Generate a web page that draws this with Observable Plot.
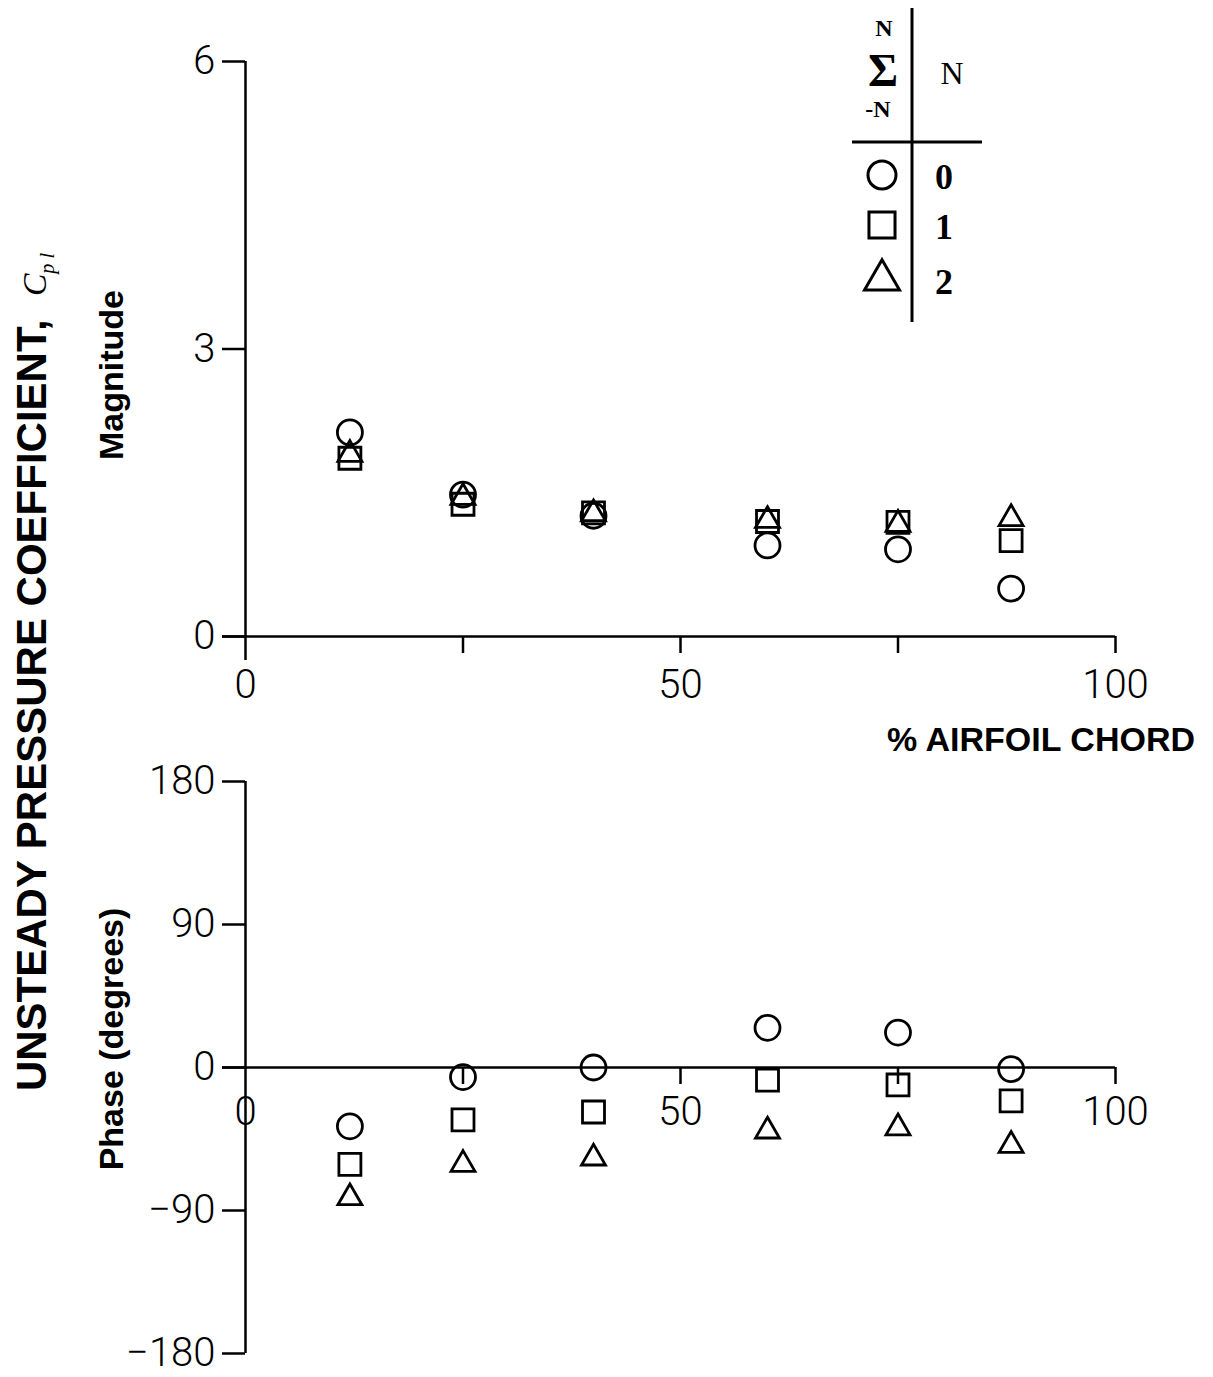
<!DOCTYPE html>
<html>
<head>
<meta charset="utf-8">
<script src="https://cdn.jsdelivr.net/npm/d3@7"></script>
<script src="https://cdn.jsdelivr.net/npm/@observablehq/plot@0.6"></script>
<style>
  html, body { margin: 0; padding: 0; background: #fff; }
  #fig { position: relative; width: 1213px; height: 1377px; overflow: hidden; color: #000;
         font-family: "Liberation Sans", Arial, sans-serif; }
  #fig > svg, #fig > div { position: absolute; }
  .vlabel { transform: translate(-50%, -50%) rotate(-90deg); white-space: nowrap; font-weight: bold; line-height: 1; }
</style>
</head>
<body>
<div id="fig"></div>
<script>
// Measurement stations along the chord (% chord)
const chord = [12, 25, 40, 60, 75, 88];

// Magnitude of the unsteady pressure coefficient for each harmonic sum N
const magN0 = [2.13, 1.48, 1.26, 0.95, 0.91, 0.50];
const magN1 = [1.86, 1.38, 1.29, 1.20, 1.19, 1.00];
const magN2 = [1.90, 1.45, 1.28, 1.21, 1.17, 1.23];

// Phase (degrees) for each harmonic sum N
const phaseN0 = [-37, -6, 0, 25, 22, -1];
const phaseN1 = [-61, -33, -28, -8, -11, -21];
const phaseN2 = [-82, -61, -57, -40, -38, -49];

const harmonicN = [0, 1, 2];
const symbolNames = ["circle", "square", "triangle"];
const symbolRadius = [12.5, 12.4, 8.9];

const magTicks = [0, 3, 6];
const phaseTicks = [-180, -90, 0, 90, 180];
const chordTickMarks = [25, 50, 75, 100];
const chordTickLabels = [0, 50, 100];

const minusFormat = d => (d < 0 ? "\u2212" + Math.abs(d) : String(d));

function rows(values) {
  return chord.map((x, i) => ({x, y: values[i]}));
}

const tickFont = {fontFamily: "Roboto, 'Liberation Sans', sans-serif", fontWeight: 300};

function seriesMarks(series) {
  return series.map((vals, k) =>
    Plot.dot(rows(vals), {
      x: "x", y: "y", symbol: symbolNames[k], r: symbolRadius[k],
      stroke: "black", strokeWidth: 2.8, fill: "none"
    })
  );
}

const fig = document.getElementById("fig");

// Upper panel: magnitude
const magPlot = Plot.plot({
  width: 1213, height: 720,
  marginLeft: 245, marginRight: 98, marginTop: 61, marginBottom: 84,
  x: {domain: [0, 100], axis: null},
  y: {domain: [0, 6], axis: null},
  style: {background: "transparent", color: "black", fontSize: "40px", overflow: "visible"},
  marks: [
    Plot.axisY(magTicks, {tickSize: 23, tickPadding: 7, strokeWidth: 2.5, label: null,
      tickFormat: minusFormat, ...tickFont}),
    Plot.ruleX([0], {y1: 6, y2: 0, insetBottom: -24, strokeWidth: 2.5}),
    Plot.ruleY([0], {x1: 0, x2: 100, insetLeft: -23, strokeWidth: 2.5}),
    Plot.ruleX(chordTickMarks, {x: d => d, y1: 0, y2: 0, insetBottom: -17, strokeWidth: 2.5}),
    Plot.text(chordTickLabels, {x: d => d, y: 0, dy: 49, text: d => String(d), ...tickFont}),
    ...seriesMarks([magN0, magN1, magN2])
  ]
});
magPlot.style.left = "0px";
magPlot.style.top = "0px";
fig.appendChild(magPlot);

// Lower panel: phase
const phasePlot = Plot.plot({
  width: 1213, height: 657,
  marginLeft: 245, marginRight: 98, marginTop: 61, marginBottom: 24,
  x: {domain: [0, 100], axis: null},
  y: {domain: [-180, 180], axis: null},
  style: {background: "transparent", color: "black", fontSize: "40px", overflow: "visible"},
  marks: [
    Plot.axisY(phaseTicks, {tickSize: 23, tickPadding: 7, strokeWidth: 2.5, label: null,
      tickFormat: minusFormat, ...tickFont}),
    Plot.ruleX([0], {y1: 180, y2: -180, strokeWidth: 2.5}),
    Plot.ruleY([0], {x1: 0, x2: 100, insetLeft: -23, strokeWidth: 2.5}),
    Plot.ruleX(chordTickMarks, {x: d => d, y1: 0, y2: 0, insetBottom: -17, strokeWidth: 2.5}),
    Plot.text(chordTickLabels, {x: d => d, y: 0, dy: 45, text: d => String(d), ...tickFont}),
    ...seriesMarks([phaseN0, phaseN1, phaseN2])
  ]
});
phasePlot.style.left = "0px";
phasePlot.style.top = "720px";
fig.appendChild(phasePlot);

// Axis titles
function addLabel(html, css, cls) {
  const d = document.createElement("div");
  if (cls) d.className = cls;
  d.innerHTML = html;
  Object.assign(d.style, css);
  fig.appendChild(d);
  return d;
}
addLabel("Magnitude", {left: "111px", top: "375px", fontSize: "34px"}, "vlabel");
addLabel("Phase (degrees)", {left: "111px", top: "1039px", fontSize: "34px"}, "vlabel");
addLabel("% AIRFOIL CHORD", {right: "18px", top: "722px", fontSize: "34px", fontWeight: "bold", lineHeight: "1"});
addLabel(
  "UNSTEADY PRESSURE COEFFICIENT,&nbsp; <span style=\"font-family:'Liberation Serif',serif;font-style:italic;font-weight:normal;font-size:0.8em\">C<sub style=\"font-size:0.6em\">p l</sub></span>",
  {left: "34px", top: "672px", fontSize: "42px"}, "vlabel");

// Legend: harmonic sum table
const d3Symbols = {circle: d3.symbolCircle, square: d3.symbolSquare, triangle: d3.symbolTriangle};
const legend = d3.create("svg")
  .attr("width", 170).attr("height", 330)
  .style("left", "840px").style("top", "0px");
const lg = legend.append("g").attr("fill", "black")
  .style("font-family", "'Liberation Serif', 'Times New Roman', serif")
  .style("font-weight", "bold");
lg.append("line").attr("x1", 72).attr("x2", 72).attr("y1", 8).attr("y2", 322)
  .attr("stroke", "black").attr("stroke-width", 3);
lg.append("line").attr("x1", 12).attr("x2", 142).attr("y1", 142).attr("y2", 142)
  .attr("stroke", "black").attr("stroke-width", 3);
lg.append("text").attr("x", 44).attr("y", 36).attr("text-anchor", "middle")
  .style("font-size", "24px").text("N");
lg.append("text").attr("x", 43).attr("y", 86).attr("text-anchor", "middle")
  .style("font-size", "46px").text("\u03A3");
lg.append("text").attr("x", 38).attr("y", 117).attr("text-anchor", "middle")
  .style("font-size", "24px").text("-N");
lg.append("text").attr("x", 112).attr("y", 84).attr("text-anchor", "middle")
  .style("font-size", "32px").style("font-weight", "normal").text("N");
const legendY = [175, 225, 280];
const legendSize = [14, 14.7, 13];
harmonicN.forEach((n, k) => {
  lg.append("path")
    .attr("transform", `translate(42,${legendY[k]})`)
    .attr("d", d3.symbol(d3Symbols[symbolNames[k]], Math.PI * legendSize[k] ** 2)())
    .attr("fill", "none").attr("stroke", "black").attr("stroke-width", 3);
  lg.append("text").attr("x", 104).attr("y", legendY[k] + 14).attr("text-anchor", "middle")
    .style("font-size", "36px").text(String(n));
});
fig.appendChild(legend.node());
</script>
</body>
</html>
